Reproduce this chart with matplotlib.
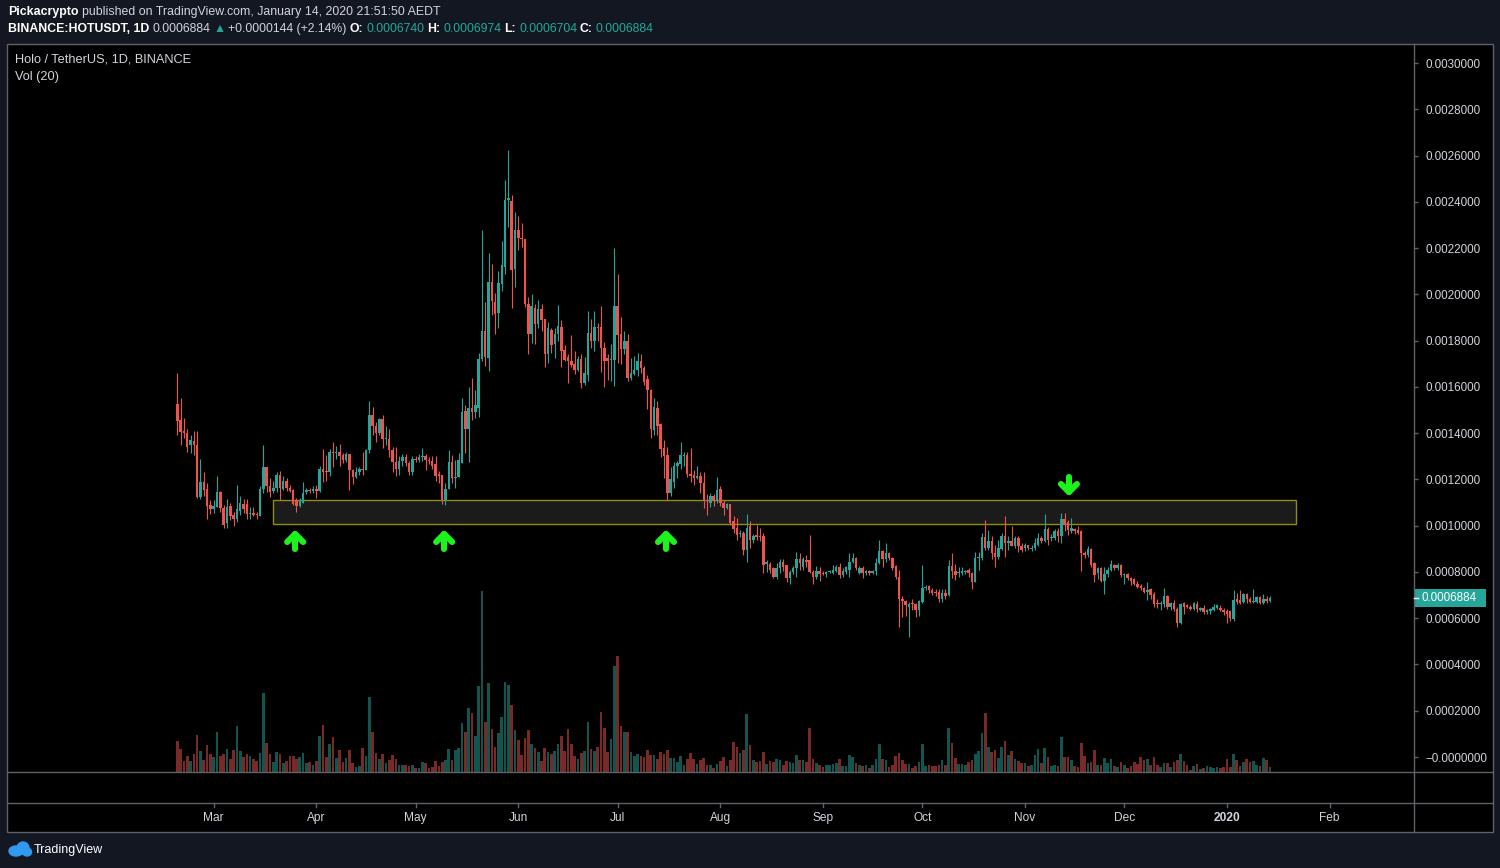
import matplotlib
matplotlib.use("Agg")
import matplotlib.pyplot as plt
from matplotlib import font_manager
from matplotlib.patches import Rectangle, Ellipse
from matplotlib.transforms import blended_transform_factory
import numpy as np
import pandas as pd

# ---------------- data (prices in units of 0.0001 USDT) ----------------
start_date = "2019-02-18"

opens = [15.26, 14.57, 14.1, 14.0, 13.5, 13.66, 13.5, 11.25, 11.9, 11.6,
         10.9, 10.7, 10.8, 11.45, 10.75, 10.1, 10.85, 10.45, 10.3, 10.65,
         10.95, 10.95, 10.5, 10.55, 10.5, 10.4, 11.6, 12.55, 11.7, 11.5,
         11.65, 12.2, 11.6, 11.95, 11.65, 11.55, 11.05, 10.85, 11.0, 11.45,
         11.55, 11.5, 11.6, 11.5, 12.45, 12.35, 12.3, 13.2, 13.15, 13.2,
         13.05, 12.85, 13.1, 12.4, 12.1, 12.3, 12.45, 12.4, 13.25, 14.8,
         14.3, 14.0, 14.6, 13.75, 13.75, 13.25, 12.75, 12.45, 12.8, 12.95,
         12.7, 12.3, 12.9, 12.85, 12.95, 13.0, 12.85, 12.8, 12.65, 12.25,
         12.2, 11.1, 11.6, 12.75, 12.05, 12.1, 12.7, 14.95, 14.2, 15.1,
         14.9, 15.1, 17.2, 18.4, 17.25, 20.55, 19.65, 19.2, 20.45, 21.2,
         24.1, 24.05, 21.1, 22.8, 22.45, 22.4, 19.6, 18.3, 19.4, 18.7,
         19.35, 18.95, 17.4, 18.45, 17.85, 18.3, 18.6, 17.6, 17.3, 17.1,
         17.0, 16.75, 17.2, 16.15, 16.5, 18.35, 18.0, 18.6, 18.6, 17.7,
         17.25, 17.15, 17.15, 19.5, 18.3, 17.65, 18.0, 16.4, 16.55, 16.75,
         17.1, 16.8, 16.35, 15.85, 14.15, 15.1, 14.4, 13.35, 13.05, 11.4,
         11.9, 12.6, 12.65, 13.0, 13.05, 12.25, 12.2, 12.05, 12.15, 11.85,
         11.1, 11.0, 11.3, 11.05, 11.6, 11.0, 10.75, 10.95, 10.2, 9.9,
         9.65, 9.7, 8.95, 10.0, 9.4, 9.6, 9.55, 9.55, 8.35, 8.35,
         8.15, 7.8, 8.15, 8.45, 8.3, 7.75, 8.0, 8.15, 8.55, 8.2,
         8.5, 8.5, 8.0, 7.8, 8.05, 7.95, 7.9, 8.0, 7.95, 8.05,
         8.2, 7.85, 8.0, 8.1, 8.45, 8.6, 7.95, 8.15, 7.95, 8.05,
         7.95, 8.05, 8.4, 8.9, 8.55, 8.8, 8.6, 8.25, 7.8, 6.85,
         6.75, 6.5, 6.65, 6.6, 6.35, 6.7, 7.3, 7.4, 7.2, 7.15,
         7.15, 6.85, 7.1, 7.0, 8.25, 8.05, 7.95, 7.95, 8.0, 8.1,
         7.95, 7.55, 8.6, 8.6, 9.5, 9.05, 9.35, 8.8, 8.65, 9.0,
         9.55, 9.25, 9.35, 9.1, 9.45, 9.1, 9.05, 9.15, 9.0, 9.05,
         9.15, 9.45, 9.35, 9.85, 9.45, 9.45, 9.75, 9.55, 10.3, 10.15,
         9.75, 9.85, 9.8, 9.75, 8.8, 8.75, 9.0, 8.4, 7.95, 8.15,
         7.6, 7.9, 8.1, 8.3, 8.15, 8.3, 7.85, 7.9, 7.75, 7.7,
         7.5, 7.4, 7.3, 7.15, 7.25, 7.05, 6.65, 6.6, 6.6, 6.95,
         6.5, 6.65, 6.4, 5.8, 6.65, 6.55, 6.5, 6.4, 6.6, 6.35,
         6.45, 6.25, 6.3, 6.35, 6.45, 6.45, 6.35, 6.3, 6.3, 5.95,
         6.85, 6.8, 6.7, 7.05, 6.85, 6.7, 6.7, 6.9, 6.65, 6.85,
         6.740]

highs = [16.6, 15.5, 14.65, 14.2, 13.9, 14.1, 14.1, 12.9, 12.3, 11.85,
         11.1, 11.1, 12.15, 11.5, 10.9, 11.15, 11.0, 10.6, 11.75, 11.3,
         11.15, 11.15, 10.8, 10.8, 10.6, 11.7, 13.5, 12.55, 12.05, 11.95,
         12.3, 12.35, 12.15, 12.05, 11.75, 11.6, 11.2, 11.2, 11.9, 11.65,
         11.65, 11.7, 11.75, 12.6, 13.3, 13.05, 13.3, 13.6, 13.45, 13.55,
         13.15, 13.2, 13.1, 12.45, 12.55, 12.55, 13.2, 13.3, 15.4, 15.15,
         14.5, 14.65, 14.8, 14.3, 14.2, 13.4, 13.4, 13.0, 13.1, 13.1,
         12.8, 13.0, 13.0, 13.1, 13.35, 13.1, 12.95, 13.0, 13.0, 12.35,
         12.2, 11.85, 13.25, 13.05, 12.85, 13.15, 15.5, 15.2, 16.0, 16.4,
         15.85, 17.45, 22.8, 19.65, 21.8, 21.3, 20.05, 21.0, 22.3, 24.95,
         26.25, 24.3, 23.55, 23.4, 23.1, 22.4, 19.9, 20.0, 19.6, 19.75,
         19.6, 18.95, 18.8, 18.55, 18.55, 19.55, 18.9, 17.8, 17.4, 18.25,
         17.55, 17.35, 17.4, 17.3, 19.3, 18.95, 19.3, 18.75, 19.5, 17.95,
         17.4, 17.85, 22.0, 20.9, 19.0, 18.4, 18.3, 17.25, 17.35, 17.45,
         17.4, 16.9, 16.5, 15.9, 15.5, 15.4, 14.45, 13.7, 13.4, 12.55,
         12.75, 12.8, 13.6, 13.2, 13.2, 13.35, 12.4, 12.6, 12.3, 12.3,
         11.35, 11.4, 11.35, 12.1, 11.7, 11.1, 11.0, 10.95, 10.4, 10.35,
         9.8, 9.75, 10.5, 10.2, 9.65, 10.05, 9.9, 9.7, 8.5, 8.45,
         8.2, 8.4, 8.55, 8.55, 8.3, 8.1, 8.25, 8.85, 8.8, 8.65,
         8.75, 9.6, 8.1, 8.25, 8.2, 8.05, 8.05, 8.1, 8.3, 8.3,
         8.4, 8.15, 8.25, 8.8, 8.8, 8.65, 8.25, 8.25, 8.1, 8.1,
         8.1, 8.6, 9.4, 8.95, 9.25, 8.85, 8.65, 8.3, 8.1, 6.95,
         6.8, 6.7, 6.85, 6.65, 6.8, 8.3, 7.45, 7.45, 7.3, 7.25,
         7.25, 7.25, 7.25, 8.5, 8.8, 8.35, 8.2, 8.2, 8.1, 8.15,
         8.0, 8.85, 8.85, 9.7, 10.25, 9.8, 9.55, 9.15, 9.4, 9.7,
         10.4, 9.55, 10.0, 9.55, 9.55, 9.25, 9.25, 9.15, 9.15, 9.45,
         9.7, 9.55, 10.5, 9.95, 9.65, 9.85, 9.9, 10.55, 10.55, 10.25,
         10.35, 9.9, 10.0, 9.8, 8.9, 9.1, 9.05, 8.45, 8.2, 8.2,
         8.2, 8.2, 8.5, 8.35, 8.4, 8.35, 7.95, 7.95, 7.8, 7.75,
         7.6, 7.5, 7.35, 7.55, 7.3, 7.15, 6.85, 6.75, 7.3, 7.0,
         6.7, 6.8, 6.5, 6.65, 6.7, 6.6, 6.55, 6.7, 6.75, 6.5,
         6.55, 6.4, 6.45, 6.6, 6.6, 6.55, 6.45, 6.4, 6.35, 7.2,
         7.1, 7.2, 7.1, 7.1, 6.9, 7.25, 6.95, 6.95, 7.05, 6.95,
         6.974]

lows = [13.9, 13.5, 13.8, 13.2, 13.15, 13.05, 11.2, 11.15, 11.3, 10.3,
        10.5, 10.55, 10.8, 10.6, 9.9, 9.9, 10.25, 10.0, 10.15, 10.45,
        10.55, 10.3, 10.3, 10.4, 10.3, 10.4, 11.4, 11.45, 11.25, 11.4,
        11.45, 11.1, 11.55, 11.5, 11.45, 10.9, 10.6, 10.8, 11.0, 11.35,
        11.4, 11.4, 11.2, 11.45, 11.9, 11.95, 12.15, 12.55, 12.9, 12.6,
        12.7, 12.75, 11.55, 11.8, 12.05, 12.2, 12.2, 12.4, 13.15, 13.9,
        13.6, 13.9, 13.35, 13.5, 12.95, 12.3, 12.15, 12.2, 12.6, 12.6,
        12.2, 12.2, 12.75, 12.75, 12.8, 12.4, 12.65, 12.45, 11.95, 11.85,
        10.95, 10.9, 11.6, 11.85, 11.65, 12.1, 12.7, 13.15, 12.75, 14.55,
        14.65, 14.7, 17.1, 16.9, 16.7, 19.1, 18.3, 18.55, 20.15, 20.9,
        22.9, 19.4, 20.3, 21.9, 22.05, 19.45, 17.4, 17.9, 17.85, 18.55,
        18.4, 16.85, 17.05, 17.45, 17.25, 18.0, 16.85, 17.1, 16.15, 16.85,
        16.55, 16.7, 15.95, 16.1, 16.25, 17.7, 17.55, 18.0, 16.65, 16.0,
        16.3, 16.25, 16.05, 17.05, 17.0, 17.4, 16.25, 16.3, 16.5, 16.45,
        16.6, 16.1, 15.05, 13.8, 13.9, 13.9, 12.95, 12.05, 11.1, 11.3,
        11.65, 12.05, 12.45, 12.6, 12.1, 11.9, 11.75, 12.0, 11.4, 10.75,
        10.45, 10.8, 10.85, 11.0, 10.85, 10.45, 10.7, 10.05, 9.7, 9.4,
        9.5, 8.75, 8.45, 9.05, 9.25, 9.4, 9.35, 7.95, 8.0, 7.95,
        7.75, 7.7, 7.95, 8.05, 7.55, 7.5, 7.9, 7.8, 8.1, 8.1,
        8.2, 7.95, 7.5, 7.7, 7.6, 7.85, 7.8, 7.95, 7.9, 8.0,
        7.75, 7.8, 7.9, 7.8, 8.4, 8.1, 7.9, 7.75, 7.85, 7.85,
        7.9, 7.85, 8.35, 8.2, 8.45, 8.5, 8.1, 7.7, 5.6, 6.05,
        6.1, 5.2, 6.35, 6.05, 6.1, 6.65, 7.2, 7.1, 7.0, 6.95,
        6.7, 6.7, 6.85, 6.95, 7.75, 7.65, 7.8, 7.85, 7.9, 7.8,
        7.25, 7.55, 8.1, 8.5, 8.95, 8.95, 8.55, 8.2, 8.55, 8.95,
        8.65, 8.95, 9.1, 9.05, 8.85, 8.85, 8.9, 8.95, 8.9, 8.95,
        9.1, 9.25, 9.3, 9.15, 9.35, 9.4, 9.3, 9.25, 9.75, 9.6,
        9.7, 9.65, 9.65, 8.05, 8.6, 8.65, 8.2, 7.55, 7.7, 7.55,
        7.05, 7.8, 8.05, 8.1, 8.1, 7.8, 7.5, 7.65, 7.45, 7.45,
        7.3, 7.2, 7.1, 6.8, 6.85, 6.5, 6.45, 6.35, 6.5, 6.4,
        6.35, 6.3, 5.6, 5.75, 6.2, 6.45, 6.35, 6.35, 6.25, 6.3,
        6.2, 6.2, 6.2, 6.3, 6.4, 6.3, 6.15, 5.8, 5.9, 5.9,
        6.6, 6.6, 6.65, 6.65, 6.65, 6.65, 6.65, 6.6, 6.6, 6.65,
        6.704]

closes = [14.53, 14.05, 14.0, 13.4, 13.7, 13.5, 11.25, 11.9, 11.55, 10.85,
          10.7, 10.85, 11.45, 10.75, 10.05, 10.8, 10.4, 10.3, 10.7, 11.0,
          10.7, 10.5, 10.55, 10.45, 10.45, 11.6, 12.55, 11.7, 11.45, 11.65,
          12.2, 11.65, 11.95, 11.65, 11.5, 10.95, 10.85, 11.05, 11.4, 11.55,
          11.5, 11.6, 11.5, 12.45, 12.3, 12.3, 13.2, 13.15, 13.2, 13.0,
          12.85, 13.1, 12.4, 12.1, 12.3, 12.45, 12.4, 13.25, 14.8, 14.3,
          14.0, 14.6, 13.75, 13.78, 13.25, 12.75, 12.45, 12.8, 12.95, 12.7,
          12.3, 12.9, 12.85, 12.95, 13.0, 12.85, 12.8, 12.6, 12.15, 12.15,
          11.1, 11.6, 12.75, 12.05, 12.1, 12.85, 14.9, 14.2, 15.1, 14.9,
          15.2, 17.2, 18.4, 17.3, 20.55, 19.7, 19.15, 20.5, 21.25, 24.1,
          24.15, 21.05, 22.8, 22.45, 22.4, 19.6, 18.3, 19.5, 18.7, 19.35,
          18.9, 17.4, 18.55, 17.8, 18.3, 18.65, 17.55, 17.15, 17.1, 16.95,
          16.75, 17.2, 16.15, 16.6, 18.35, 18.0, 18.6, 18.55, 17.7, 17.1,
          17.1, 17.2, 19.5, 18.25, 17.65, 18.0, 16.4, 16.6, 16.75, 17.1,
          16.8, 16.2, 15.85, 14.2, 15.15, 14.3, 13.3, 13.0, 11.4, 12.0,
          12.6, 12.7, 13.05, 13.05, 12.25, 12.15, 12.05, 12.15, 11.85, 11.1,
          11.05, 11.3, 11.05, 11.55, 11.0, 10.75, 10.95, 10.1, 9.85, 9.6,
          9.7, 8.95, 9.9, 9.4, 9.55, 9.5, 9.5, 8.3, 8.45, 8.1,
          7.8, 8.15, 8.45, 8.2, 7.75, 8.0, 8.15, 8.55, 8.4, 8.55,
          8.45, 8.0, 7.8, 8.05, 7.9, 7.9, 8.0, 8.05, 8.1, 8.2,
          7.85, 8.05, 8.2, 8.45, 8.6, 8.15, 8.15, 7.95, 8.05, 7.95,
          8.05, 8.4, 8.9, 8.55, 8.8, 8.6, 8.15, 7.8, 6.85, 6.75,
          6.55, 6.6, 6.6, 6.35, 6.75, 7.3, 7.35, 7.2, 7.1, 7.1,
          6.85, 7.1, 6.95, 8.25, 8.05, 7.85, 8.0, 8.05, 8.05, 7.95,
          7.55, 8.6, 8.65, 9.5, 9.05, 9.35, 8.8, 8.65, 9.05, 9.55,
          9.25, 9.35, 9.1, 9.45, 9.1, 8.95, 9.15, 9.05, 9.05, 9.25,
          9.45, 9.35, 9.85, 9.4, 9.5, 9.75, 9.55, 10.3, 10.05, 9.8,
          9.9, 9.75, 9.7, 8.8, 8.75, 9.0, 8.3, 7.85, 8.15, 7.6,
          7.9, 8.1, 8.35, 8.15, 8.3, 7.85, 7.9, 7.75, 7.6, 7.5,
          7.35, 7.3, 7.15, 7.2, 7.0, 6.6, 6.6, 6.65, 6.95, 6.5,
          6.65, 6.4, 5.8, 6.6, 6.5, 6.5, 6.4, 6.65, 6.4, 6.45,
          6.25, 6.35, 6.4, 6.5, 6.55, 6.35, 6.25, 6.2, 6.0, 6.8,
          6.7, 6.65, 7.05, 6.85, 6.7, 6.75, 6.9, 6.65, 6.85, 6.75,
          6.884]

# volume, relative units
volumes = [94, 70, 32, 49, 34, 55, 112, 64, 37, 82,
           55, 44, 121, 47, 55, 70, 40, 67, 139, 64,
           44, 55, 49, 40, 34, 58, 238, 88, 55, 31,
           61, 55, 28, 34, 49, 49, 40, 46, 58, 28,
           31, 22, 34, 109, 142, 46, 85, 106, 43, 67,
           31, 43, 67, 28, 16, 19, 73, 49, 226, 121,
           58, 40, 55, 28, 37, 52, 40, 22, 22, 22,
           19, 22, 13, 11, 31, 28, 13, 16, 34, 19,
           31, 37, 70, 37, 67, 73, 148, 121, 193, 178,
           109, 259, 544, 151, 268, 130, 76, 118, 166, 271,
           262, 202, 127, 97, 52, 103, 127, 85, 73, 61,
           34, 73, 61, 55, 64, 85, 109, 64, 130, 85,
           49, 40, 58, 64, 151, 70, 64, 76, 181, 133,
           61, 100, 319, 349, 139, 121, 121, 61, 49, 55,
           49, 46, 67, 52, 52, 40, 61, 55, 67, 43,
           43, 31, 49, 22, 40, 58, 40, 25, 37, 43,
           22, 22, 13, 25, 34, 46,
           17, 35, 89, 74, 56, 65, 173,
           80, 35, 30, 32, 59, 23, 32, 30, 38, 35,
           20, 32, 29, 26, 50, 35, 35, 29, 131, 38,
           26, 20, 14, 20, 20, 23, 26, 38, 17, 17,
           50, 44, 26, 20, 17, 20, 11, 20, 38, 83,
           38, 35, 14, 20, 47, 56, 35, 23, 23, 11,
           17, 29, 83, 17, 20, 17, 17, 20, 35, 20,
           131, 86, 41, 23, 23, 20, 29, 35, 53, 62,
           116, 176, 74, 59, 65, 41, 74, 92, 50, 62,
           38, 32, 26, 26, 17, 20, 50, 68, 26, 71,
           44, 17, 20, 17, 104, 44, 44, 35, 17, 14,
           86, 47, 26, 29, 65, 20, 20, 41, 26, 38,
           17, 14, 29, 20, 11, 17, 29, 23, 44, 35,
           38, 20, 44, 20, 14, 26, 26, 14, 29, 35,
           53, 32, 20, 5, 17, 23, 8, 11, 17, 14,
           11, 14, 11, 14, 38, 14, 53, 35, 17, 29,
           38, 29, 32, 20, 17, 41, 35, 14]

# support/resistance zone and arrow marks drawn on the chart
zone_start, zone_end = "2019-03-19", "2020-01-22"
zone_low, zone_high = 0.001007, 0.001111
up_marks = [35.6, 80.6, 147.6]     # day offsets
down_marks = [269.3]

last_price = "0.0006884"

# ---------------- styling ----------------
W, H = 1500, 868
BG = "#131722"
LINE = "#5f6168"
TXT = "#d1d4dc"
UP, DOWN = "#26a69a", "#ef5350"
VUP, VDOWN = "#14544e", "#782a28"
ARROW = "#1cf21c"

names = {f.name for f in font_manager.fontManager.ttflist}
FONT = "Liberation Sans" if "Liberation Sans" in names else "DejaVu Sans"
plt.rcParams["font.family"] = [FONT, "DejaVu Sans"]


def fx(px):
    return px / W


def fy(py):
    return 1 - py / H


start = pd.Timestamp(start_date)
n = len(closes)
x = np.arange(n)
o = np.array(opens) * 1e-4
h = np.array(highs) * 1e-4
l = np.array(lows) * 1e-4
c = np.array(closes) * 1e-4
up = c >= o

fig = plt.figure(figsize=(W / 100, H / 100), dpi=100, facecolor=BG)

# chart frame
fig.add_artist(Rectangle((fx(7), fy(832)), fx(1493) - fx(7), fy(44) - fy(832),
                         transform=fig.transFigure, facecolor="black",
                         edgecolor=LINE, lw=1, zorder=0))
fig.add_artist(plt.Line2D([fx(1414), fx(1414)], [fy(44), fy(832)],
                          transform=fig.transFigure, color=LINE, lw=1))
for yy in [772, 803]:
    fig.add_artist(plt.Line2D([fx(7), fx(1493)], [fy(yy), fy(yy)],
                              transform=fig.transFigure, color=LINE, lw=1))

rect = [fx(8), fy(772), fx(1414) - fx(8), fy(44) - fy(772)]
x0 = (8 - 177.3) / 3.311
x1 = (1414 - 177.3) / 3.311

# volume pane (behind price)
vax = fig.add_axes(rect, facecolor="none")
vax.bar(x, volumes, width=0.8, color=np.where(up, VUP, VDOWN), linewidth=0)
vax.set_xlim(x0, x1)
vax.set_ylim(0, 544 * 728 / 181.3)
vax.axis("off")

ax = fig.add_axes(rect, facecolor="none")
ax.set_xlim(x0, x1)
ax.set_ylim(-0.0000648, 0.0030822)

# zone
zs = (pd.Timestamp(zone_start) - start).days
ze = (pd.Timestamp(zone_end) - start).days
ax.add_patch(Rectangle((zs, zone_low), ze - zs, zone_high - zone_low,
                       facecolor="#1b1b1b", edgecolor="#8f8c10", lw=1, zorder=1))

# candles
cols = np.where(up, UP, DOWN)
ax.vlines(x, l, h, colors=cols, lw=0.8, zorder=2)
body_lo = np.minimum(o, c)
body_h = np.maximum(np.abs(c - o), 0.0000045)
ax.bar(x, body_h, bottom=body_lo, width=0.75, color=cols, linewidth=0, zorder=3)

# price scale on the right
ticks = np.arange(0, 0.00301, 0.0002)
ax.yaxis.tick_right()
ax.set_yticks(ticks)
ax.set_yticklabels(["\u22120.0000000" if t == 0 else f"{t:.7f}" for t in ticks])
ax.tick_params(axis="y", length=3, width=1, color=LINE, pad=5,
               labelsize=8.4, labelcolor=TXT)
ax.set_xticks([])
for s in ax.spines.values():
    s.set_visible(False)

fig.canvas.draw()
renderer = fig.canvas.get_renderer()


# arrows, drawn in pixel space
def arrow(day, price, direction):
    px, py = ax.transData.transform((day, price))
    d = 1 if direction == "up" else -1
    shaft = [(px, py), (px, py - d * 15)]
    arms = [(px - 8, py - d * 8), (px, py), (px + 8, py - d * 8)]
    for pts in (shaft, arms):
        xs, ys = zip(*pts)
        fig.add_artist(plt.Line2D(xs, ys, transform=None, color=ARROW, lw=4.4,
                                  solid_capstyle="round", solid_joinstyle="round"))


for d in up_marks:
    arrow(d, (757 - 534) / 231333, "up")
for d in down_marks:
    arrow(d, (757 - 492) / 231333, "down")

# last price label
ly = float(last_price)
_, lpy = ax.transData.transform((0, ly))
lpy_top = H - lpy
fig.add_artist(Rectangle((fx(1414), fy(lpy_top + 9)), fx(1486) - fx(1414), 18 / H,
                         transform=fig.transFigure, facecolor=UP, edgecolor="none"))
fig.add_artist(plt.Line2D([fx(1414), fx(1418)], [fy(lpy_top), fy(lpy_top)],
                          transform=fig.transFigure, color="white", lw=1))
fig.text(fx(1422), fy(lpy_top), last_price, color="white", fontsize=8.4,
         va="center", ha="left")

# time axis
months = pd.date_range("2019-03-01", "2020-02-01", freq="MS")
tr = blended_transform_factory(ax.transData, fig.transFigure)
for m in months:
    d = (m - start).days
    fig.add_artist(plt.Line2D([d, d], [fy(803), fy(807)], transform=tr,
                              color=LINE, lw=1))
    lab = str(m.year) if m.month == 1 else m.strftime("%b")
    fig.text(d, fy(818), lab, transform=tr, color=TXT, fontsize=8.6,
             ha="center", va="center",
             fontweight="bold" if m.month == 1 else "normal")


# header
def run(parts, px, py, size):
    for s, color, weight in parts:
        t = fig.text(fx(px), fy(py), s, color=color, fontsize=size,
                     fontweight=weight, va="center", ha="left")
        bb = t.get_window_extent(renderer=renderer)
        px += bb.width + 3


run([("Pickacrypto", "white", "bold"),
     ("published on TradingView.com, January 14, 2020 21:51:50 AEDT", TXT, "normal")],
    8, 12, 8.9)
run([("BINANCE:HOTUSDT, 1D", "white", "bold"),
     ("0.0006884", TXT, "normal"),
     ("\u25b2", UP, "normal"),
     ("+0.0000144 (+2.14%)", TXT, "normal"),
     ("O:", "white", "bold"), ("0.0006740", UP, "normal"),
     ("H:", "white", "bold"), ("0.0006974", UP, "normal"),
     ("L:", "white", "bold"), ("0.0006704", UP, "normal"),
     ("C:", "white", "bold"), ("0.0006884", UP, "normal")],
    8, 29, 8.8)

fig.text(fx(15), fy(60), "Holo / TetherUS, 1D, BINANCE", color=TXT, fontsize=9.2,
         va="center", ha="left")
fig.text(fx(15), fy(77), "Vol (20)", color=TXT, fontsize=9.2, va="center", ha="left")

# footer logo
for cx, cy, ew, eh in [(16, 851, 14, 10), (23, 848, 12, 12), (27, 852, 9, 8)]:
    fig.add_artist(Ellipse((fx(cx), fy(cy)), ew / W, eh / H,
                           transform=fig.transFigure, color="#2f9bf0"))
fig.text(fx(34), fy(850), "TradingView", color="white", fontsize=9,
         va="center", ha="left")

fig.savefig("out.png", dpi=100, facecolor=BG)
